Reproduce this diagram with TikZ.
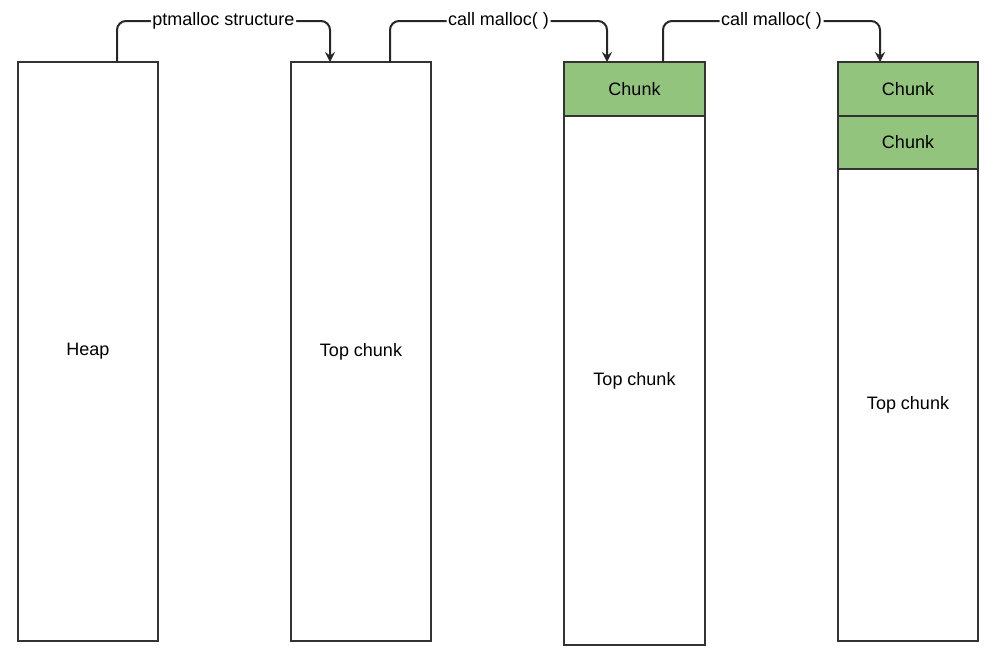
\documentclass[tikz,border=0pt]{standalone}
\usepackage{fontspec}
\setmainfont{Liberation Sans}
\usetikzlibrary{positioning,arrows.meta}

\definecolor{chunkgreen}{RGB}{147,196,125}
\definecolor{edgegray}{RGB}{51,51,51}

\begin{document}
\begin{tikzpicture}[x=1pt,y=-1pt,
		font=\fontsize{18}{21}\selectfont,
		memnode/.style={rectangle,draw=edgegray,line width=2pt,fill=white,minimum width=140pt,inner sep=0pt,outer sep=0pt},
		chunknode/.style={memnode,fill=chunkgreen,minimum height=54pt},
		link/.style={draw=black!85,line width=2pt,rounded corners=9pt},
		linklabel/.style={fill=white,inner sep=1.5pt},
		tip/.style={-{Stealth[length=10pt,width=10pt,inset=3.5pt]}}]
		\useasboundingbox (0,0) rectangle (998,665);

		% first column: whole heap
		\node[memnode,minimum height=579pt]						(heap)	at (88,351.5)	{Heap};
		% second column: after init
		\node[memnode,minimum height=579pt]						(top1)	at (361,351.5)	{Top chunk};
		% third column: one chunk
		\node[chunknode,minimum width=141pt]					(c31)	at (634.5,89)	{Chunk};
		\node[memnode,minimum width=141pt,minimum height=529pt,below=0pt of c31]	(top2)	{Top chunk};
		% fourth column: two chunks
		\node[chunknode]										(c41)	at (908,89)		{Chunk};
		\node[chunknode,minimum height=53pt,below=0pt of c41]	(c42)	{Chunk};
		\node[memnode,minimum height=472pt,below=0pt of c42]	(top3)	{Top chunk};

		\draw[link,tip] ([xshift=29pt]heap.north) -- ++(0,-41) -| ([xshift=-31pt]top1.north) node[linklabel,pos=0.25] {ptmalloc structure};
		\draw[link,tip] ([xshift=29pt]top1.north) -- ++(0,-41) -| ([xshift=-27.5pt]c31.north) node[linklabel,pos=0.25] {call malloc( )};
		\draw[link,tip] ([xshift=28.5pt]c31.north) -- ++(0,-41) -| ([xshift=-28pt]c41.north) node[linklabel,pos=0.25] {call malloc( )};
	\end{tikzpicture}
\end{document}
